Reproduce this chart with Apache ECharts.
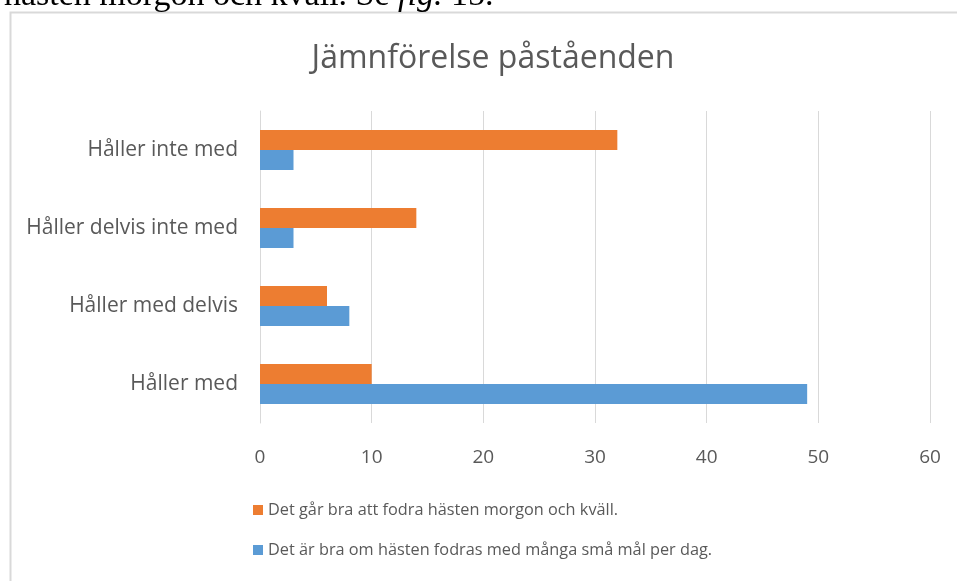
<!DOCTYPE html>
<html>
<head>
<meta charset="utf-8">
<script src="https://cdn.jsdelivr.net/npm/echarts@6/dist/echarts.min.js"></script>
<style>
  html, body { margin: 0; padding: 0; background: #fff; }
  #chart { width: 957px; height: 581px; }
</style>
</head>
<body>
<div id="chart"></div>
<script>
const categories = ['Håller med', 'Håller med delvis', 'Håller delvis inte med', 'Håller inte med'];
const seriesNames = [
    'Det går bra att fodra hästen morgon och kväll.',
    'Det är bra om hästen fodras med många små mål per dag.'
];
const morgonKvall = [10, 6, 14, 32];
const mangaSmaMal = [49, 8, 3, 3];

const chart = echarts.init(document.getElementById('chart'));
const font = '"Open Sans", "Noto Sans", sans-serif';

const option = {
    animation: false,
    textStyle: {fontFamily: font},
    title: {
        text: 'Jämnförelse påståenden',
        left: 488,
        textAlign: 'center',
        top: 38,
        textStyle: {fontSize: 32, fontWeight: 'normal', color: '#595959', fontFamily: font}
    },
    graphic: [
        {
            type: 'rect',
            shape: {x: 10.5, y: 12.5, width: 960, height: 600},
            style: {fill: null, stroke: '#d9d9d9', lineWidth: 2},
            silent: true
        },
        {
            type: 'text',
            left: 4,
            top: -21,
            style: {
                text: 'hästen morgon och kväll. Se {i|fig.} 15.',
                font: '34px "Liberation Serif", serif',
                fill: '#000',
                rich: {i: {fontStyle: 'italic', fontSize: 34, fontFamily: '"Liberation Serif", serif'}}
            },
            silent: true
        }
    ],
    legend: {
        orient: 'vertical',
        left: 248,
        top: 497,
        itemGap: 24,
        itemWidth: 10,
        itemHeight: 10,
        icon: 'rect',
        data: [seriesNames[0], seriesNames[1]],
        textStyle: {fontSize: 16.3, color: '#595959', fontFamily: font}
    },
    grid: {left: 260, right: 27, top: 111, bottom: 158, containLabel: false},
    xAxis: {
        type: 'value',
        min: 0,
        max: 60,
        interval: 10,
        axisLine: {show: false},
        axisTick: {show: false},
        splitLine: {lineStyle: {color: '#d9d9d9', width: 1}},
        axisLabel: {fontSize: 19, color: '#595959', margin: 25, fontFamily: font}
    },
    yAxis: {
        type: 'category',
        data: categories,
        axisLine: {lineStyle: {color: '#d9d9d9'}},
        axisTick: {show: false},
        axisLabel: {fontSize: 21, color: '#595959', margin: 22, fontFamily: font}
    },
    series: [
        {
            name: seriesNames[0],
            type: 'bar',
            data: morgonKvall,
            barWidth: 20,
            barGap: '0%',
            itemStyle: {color: '#ED7D31'}
        },
        {
            name: seriesNames[1],
            type: 'bar',
            data: mangaSmaMal,
            barWidth: 20,
            barGap: '0%',
            itemStyle: {color: '#5B9BD5'}
        }
    ]
};

chart.setOption(option);
</script>
</body>
</html>
